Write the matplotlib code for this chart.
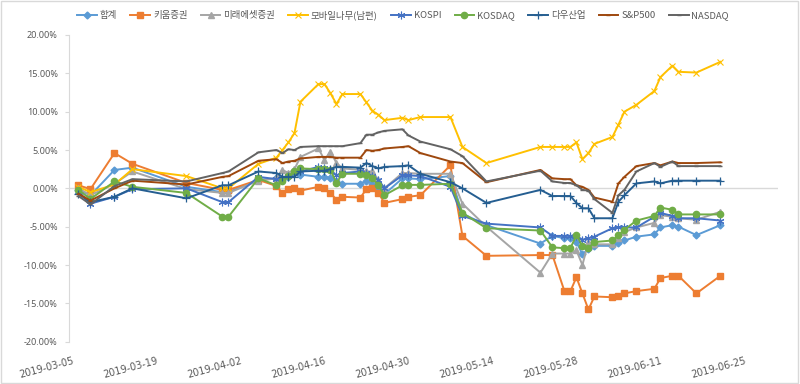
import numpy as np
import pandas as pd
import matplotlib
matplotlib.use("Agg")
import matplotlib.pyplot as plt
import matplotlib.dates as mdates
from matplotlib.patches import Rectangle

plt.rcParams['font.family'] = ['Noto Sans CJK KR', 'DejaVu Sans']

# recorded dates (shared by every series)
dates = ["2019-03-06", "2019-03-08", "2019-03-12", "2019-03-15", "2019-03-24",
         "2019-03-30", "2019-03-31", "2019-04-05", "2019-04-08", "2019-04-09",
         "2019-04-10", "2019-04-11", "2019-04-12", "2019-04-15", "2019-04-16",
         "2019-04-17", "2019-04-18", "2019-04-19", "2019-04-22", "2019-04-23",
         "2019-04-24", "2019-04-25", "2019-04-26", "2019-04-29", "2019-04-30",
         "2019-05-02", "2019-05-07", "2019-05-09", "2019-05-13", "2019-05-22",
         "2019-05-24", "2019-05-26", "2019-05-27", "2019-05-28", "2019-05-29",
         "2019-05-30", "2019-05-31", "2019-06-03", "2019-06-04", "2019-06-05",
         "2019-06-07", "2019-06-10", "2019-06-11", "2019-06-13", "2019-06-14",
         "2019-06-17", "2019-06-21"]

# returns in percent
total = [-0.2, -0.9, 2.4, 2.7, 0.2, -0.5, -0.5, 1.1, 1.3, 1.1,
         1.5, 2.0, 1.8, 1.5, 1.5, 1.4, 0.9, 0.6, 0.6, 1.0,
         0.6, 0.0, -0.75, 1.3, 1.3, 1.2, 1.6, -3.3, -4.8, -7.2,
         -6.2, -6.5, -6.5, -7.0, -8.6, -7.9, -7.5, -7.5, -7.1, -6.8,
         -6.3, -6.0, -5.1, -4.8, -5.0, -6.1, -4.8]
kiwoom = [0.4, -0.1, 4.6, 3.2, 0.7, -0.2, -0.2, 1.1, 0.3, -0.65,
          -0.1, 0.1, -0.3, 0.2, 0.0, -0.6, -1.5, -1.1, -1.2, -0.1,
          0.0, -0.6, -1.9, -1.4, -1.1, -0.9, 3.0, -6.2, -8.8, -8.7,
          -8.7, -13.4, -13.4, -11.6, -13.7, -15.8, -14.1, -14.2, -14.1, -13.7,
          -13.4, -13.1, -11.7, -11.4, -11.4, -13.7, -11.4]
mirae = [0.0, -0.9, 0.6, 2.2, -0.1, -0.6, -0.6, 1.0, 1.3, 2.4,
         2.0, 2.5, 4.1, 5.2, 3.7, 4.8, 3.3, 2.6, 2.4, 2.2,
         2.2, 1.1, 0.0, 2.0, 2.0, 1.9, 1.9, -2.0, -5.0, -11.0,
         -8.5, -8.5, -8.5, -8.1, -10.0, -7.0, -7.3, -7.3, -6.5, -5.7,
         -5.1, -4.5, -3.5, -3.7, -3.9, -4.1, -3.05]
mobile = [0.2, -0.5, 0.5, 2.5, 1.6, 0.0, 0.0, 3.2, 4.0, 5.0,
          6.0, 7.2, 11.3, 13.6, 13.6, 12.4, 11.0, 12.3, 12.3, 11.2,
          10.1, 9.6, 8.9, 9.2, 8.9, 9.3, 9.3, 5.4, 3.3, 5.4,
          5.4, 5.4, 5.4, 6.0, 3.8, 4.6, 5.8, 6.7, 8.3, 10.0,
          10.9, 12.7, 14.5, 16.0, 15.2, 15.1, 16.5]
kospi = [-0.5, -2.0, -1.1, -0.1, 0.0, -1.8, -1.8, 1.5, 1.2, 1.4,
         1.6, 2.0, 2.2, 2.8, 2.7, 2.4, 1.7, 2.0, 2.2, 2.0,
         1.6, 1.1, 0.0, 1.7, 1.7, 1.6, 0.2, -3.6, -4.6, -5.1,
         -6.2, -6.2, -6.2, -6.2, -6.7, -6.5, -6.3, -5.2, -5.1, -5.1,
         -5.1, -3.7, -3.2, -3.6, -3.9, -3.9, -4.2]
kosdaq = [-0.2, -1.4, 0.9, 0.2, -0.6, -3.7, -3.7, 1.3, 0.4, 1.0,
          1.6, 2.2, 2.6, 2.5, 2.5, 2.4, 0.7, 1.9, 1.9, 1.8,
          1.3, 0.4, -0.9, 0.4, 0.45, 0.45, 0.6, -3.2, -5.2, -5.5,
          -7.7, -7.8, -7.8, -6.1, -7.5, -7.8, -7.0, -6.8, -6.1, -5.4,
          -4.2, -3.6, -2.5, -2.8, -3.4, -3.4, -3.4]
dow = [-0.7, -1.8, -1.1, 0.0, -1.3, 0.4, 0.4, 2.2, 2.0, 1.5,
       1.5, 1.5, 2.2, 2.3, 2.3, 2.5, 2.8, 2.8, 2.7, 3.3,
       2.9, 2.6, 2.8, 2.9, 3.0, 1.9, 0.8, 0.0, -1.9, -0.2,
       -1.0, -1.0, -1.0, -1.9, -2.6, -2.6, -3.9, -3.9, -1.75, -0.9,
       0.65, 0.9, 0.65, 1.0, 1.0, 1.0, 1.0]
sp500 = [-0.7, -1.6, 0.0, 1.0, 0.5, 1.5, 1.6, 3.6, 3.8, 3.3,
         3.5, 3.6, 3.9, 4.1, 4.1, 4.1, 4.0, 4.0, 4.0, 5.0,
         4.9, 5.0, 5.2, 5.4, 5.5, 4.6, 3.5, 3.3, 0.8, 2.4,
         1.3, 1.2, 1.2, 0.4, 0.2, -0.2, -1.2, -1.75, 0.65, 1.5,
         2.9, 3.3, 3.0, 3.5, 3.3, 3.3, 3.4]
nasdaq = [-1.0, -2.1, 0.3, 1.2, 0.9, 2.0, 2.2, 4.7, 5.0, 4.6,
          5.1, 5.0, 5.4, 5.5, 5.5, 5.5, 5.5, 5.5, 5.9, 7.0,
          7.0, 7.3, 7.5, 7.7, 6.9, 6.1, 5.1, 4.2, 0.9, 2.3,
          0.9, 0.7, 0.7, 0.4, -0.2, -0.3, -1.4, -3.2, -0.9, -0.2,
          2.2, 3.3, 2.8, 3.5, 2.9, 2.9, 2.9]

labels = ["합계", "키움증권", "미래에셋증권", "모바일나무(남편)", "KOSPI",
          "KOSDAQ", "다우산업", "S&P500", "NASDAQ"]
series = [total, kiwoom, mirae, mobile, kospi, kosdaq, dow, sp500, nasdaq]
colors = ["#5B9BD5", "#ED7D31", "#A5A5A5", "#FFC000", "#4472C4",
          "#70AD47", "#255E91", "#9E480E", "#636363"]
markers = ["D", "s", "^", "x", (6, 2, 0), "o", "+", "_", "_"]
msizes = [3.5, 4.5, 4.5, 5, 5.5, 4.5, 6, 3.5, 3.5]
medges = [1.0, 1.0, 1.0, 0.8, 0.8, 1.0, 0.9, 1.0, 1.0]

x = pd.to_datetime(dates)
start = mdates.date2num(pd.Timestamp("2019-03-05"))

fig = plt.figure(figsize=(8, 3.84), dpi=100)
ax = fig.add_axes([69 / 800, 1 - 341.7 / 384, 709 / 800, 306.7 / 384])

ax.axhline(0, color="#D9D9D9", lw=1, zorder=1)
for vals, lab, c, m, ms, mew in zip(series, labels, colors, markers, msizes, medges):
    ax.plot(x, vals, color=c, lw=1.4, marker=m, markersize=ms,
            markeredgewidth=mew, label=lab, zorder=2)

ax.set_ylim(-20, 20)
ax.set_yticks(np.arange(-20, 21, 5))
ax.set_yticklabels(["{:.2f}%".format(v) for v in np.arange(-20, 21, 5)],
                   family="Noto Sans", fontsize=6.5, color="#595959")
ax.set_xlim(start - 0.58, start + 117.6)
ticks = start + np.arange(0, 113, 14)
ax.set_xticks(ticks)
ax.set_xticklabels([mdates.num2date(t).strftime("%Y-%m-%d") for t in ticks],
                   family="DejaVu Sans", fontsize=7, color="#595959",
                   rotation=15, ha="right", va="top", rotation_mode="anchor")
ax.tick_params(axis="x", length=0, pad=10)
ax.tick_params(axis="y", length=3, color="#D9D9D9", pad=5)

for s in ["top", "right", "bottom"]:
    ax.spines[s].set_visible(False)
ax.spines["left"].set_color("#D9D9D9")

fig.legend(loc="center", bbox_to_anchor=(403 / 800, 1 - 15 / 384), ncol=9,
           frameon=False, fontsize=6.8, labelcolor="#595959",
           handlelength=2.1, handletextpad=0.3, columnspacing=1.4)

fig.patches.append(Rectangle((0.001, 0.002), 0.997, 0.995, transform=fig.transFigure,
                             fill=False, edgecolor="#D9D9D9", lw=1))

fig.savefig("out.png", dpi=100)
